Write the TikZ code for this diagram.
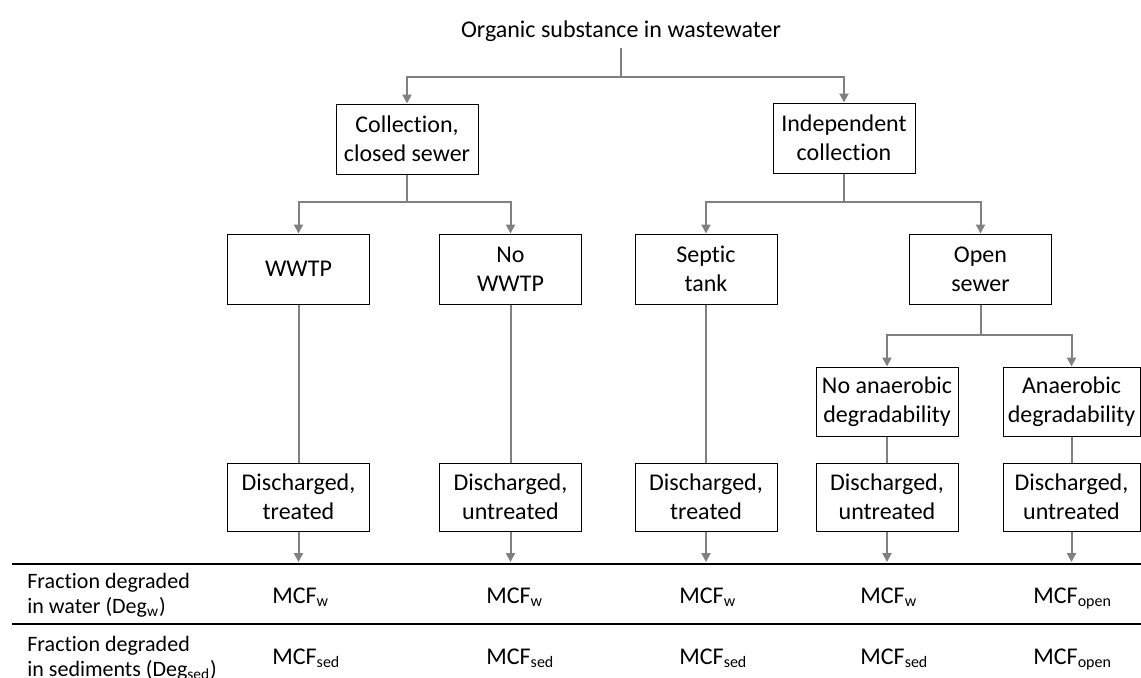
\documentclass[tikz,border=0pt]{standalone}
\usepackage{fontspec}
\setmainfont{Carlito}[Ligatures=NoCommon]
\usetikzlibrary{arrows.meta}
\definecolor{linkgray}{RGB}{128,128,128}

\begin{document}
\begin{tikzpicture}[x=0.5pt,y=-0.5pt,
    font=\fontsize{12}{14.5}\selectfont,
    box/.style={draw, line width=0.5pt, minimum width=71pt, minimum height=35pt, align=center, inner sep=2pt},
    link/.style={draw=linkgray, line width=1pt},
    arr/.style={link, -{Triangle[width=4.5pt,length=4.5pt]}},
    rule/.style={line width=1pt},
    cell/.style={anchor=base west, inner sep=0pt},
    rowlabel/.style={anchor=west, align=left, inner sep=0pt, font=\fontsize{11}{12.5}\selectfont}]
    \useasboundingbox (0,0) rectangle (1141,677);
    \node [anchor=south, inner sep=3pt] (title) at (621,48) {Organic substance in wastewater};
    % collection
    \node [box] (coll) at (407,139) {Collection,\\closed sewer};
    \node [box] (indep) at (844,138) {Independent\\collection};
    \draw [link] (title.south) -- ++(0,29) coordinate (s0);
    \draw [arr] (s0) -| (coll.north);
    \draw [arr] (s0) -| (indep.north);
    % treatment
    \node [box] (wwtp) at (298.5,269) {WWTP};
    \node [box] (nowwtp) at (510.5,269) {No\\WWTP};
    \node [box] (septic) at (706,269) {Septic\\tank};
    \node [box] (open) at (980.5,269) {Open\\sewer};
    \draw [link] (coll.south) -- ++(0,27) coordinate (s1);
    \draw [arr] (s1) -| (wwtp.north);
    \draw [arr] (s1) -| (nowwtp.north);
    \draw [link] (indep.south) -- ++(0,28) coordinate (s2);
    \draw [arr] (s2) -| (septic.north);
    \draw [arr] (s2) -| (open.north);
    % open sewer
    \node [box, minimum height=34.5pt] (noanaer) at (887,401.5) {No anaerobic\\degradability};
    \node [box, minimum height=34.5pt, minimum width=68.5pt] (anaer) at (1071.5,401.5) {Anaerobic\\degradability};
    \draw [link] (open.south) -- ++(0,30) coordinate (s3);
    \draw [arr] (s3) -| (noanaer.north);
    \draw [arr] (s3) -| (anaer.north);
    % discharge
    \node [box, minimum height=34pt] (dis1) at (298.5,497) {Discharged,\\treated};
    \node [box, minimum height=34pt] (dis2) at (510.5,497) {Discharged,\\untreated};
    \node [box, minimum height=34pt] (dis3) at (706,497) {Discharged,\\treated};
    \node [box, minimum height=34pt] (dis4) at (887,497) {Discharged,\\untreated};
    \node [box, minimum height=34pt, minimum width=68.5pt] (dis5) at (1071.5,497) {Discharged,\\untreated};
    \draw [link] (wwtp) -- (dis1);
    \draw [link] (nowwtp) -- (dis2);
    \draw [link] (septic) -- (dis3);
    \draw [link] (noanaer) -- (dis4);
    \draw [link] (anaer) -- (dis5);
    % table
    \coordinate (rowtop) at (12,564);
    \coordinate (rowmid) at (12,624);
    \draw [rule] (rowtop) -- (1141,564);
    \draw [rule] (rowmid) -- (1141,624);
    \draw [arr, shorten >=1pt] (dis1.south) -- (dis1.south |- rowtop);
    \draw [arr, shorten >=1pt] (dis2.south) -- (dis2.south |- rowtop);
    \draw [arr, shorten >=1pt] (dis3.south) -- (dis3.south |- rowtop);
    \draw [arr, shorten >=1pt] (dis4.south) -- (dis4.south |- rowtop);
    \draw [arr, shorten >=1pt] (dis5.south) -- (dis5.south |- rowtop);
    \node [rowlabel] (degw) at (27,595) {Fraction degraded\\in water (Deg\textsubscript{w})};
    \node [rowlabel] (degsed) at (27,658) {Fraction degraded\\in sediments (Deg\textsubscript{sed})};
    \node [cell] (w1) at (272,603) {MCF\textsubscript{w}};
    \node [cell] (w2) at (486,603) {MCF\textsubscript{w}};
    \node [cell] (w3) at (679,603) {MCF\textsubscript{w}};
    \node [cell] (w4) at (860,603) {MCF\textsubscript{w}};
    \node [cell] (w5) at (1033,603) {MCF\textsubscript{open}};
    \node [cell] (sed1) at (272,664) {MCF\textsubscript{sed}};
    \node [cell] (sed2) at (486,664) {MCF\textsubscript{sed}};
    \node [cell] (sed3) at (679,664) {MCF\textsubscript{sed}};
    \node [cell] (sed4) at (860,664) {MCF\textsubscript{sed}};
    \node [cell] (sed5) at (1033,664) {MCF\textsubscript{open}};
\end{tikzpicture}
\end{document}
